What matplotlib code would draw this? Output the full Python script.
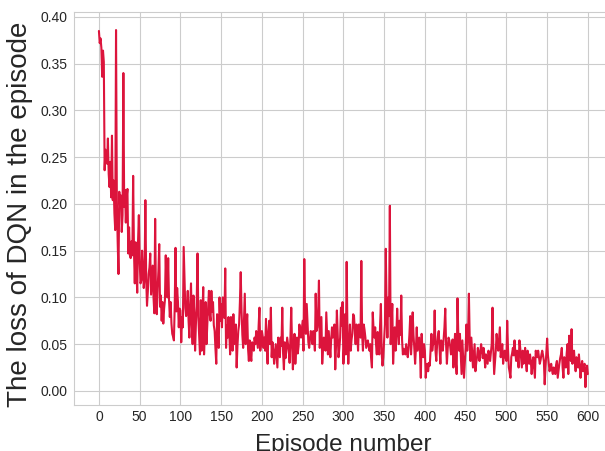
import matplotlib
matplotlib.use("Agg")
import matplotlib.pyplot as plt
import seaborn as sns

# Per-episode DQN loss, episodes 0..600
loss = [
    0.385, 0.372, 0.377, 0.367, 0.336, 0.364, 0.352, 0.236, 0.258, 0.250,
    0.243, 0.270, 0.232, 0.218, 0.245, 0.207, 0.273, 0.204, 0.225, 0.190,
    0.172, 0.386, 0.204, 0.160, 0.125, 0.213, 0.196, 0.209, 0.170, 0.188,
    0.340, 0.197, 0.215, 0.180, 0.207, 0.216, 0.147, 0.175, 0.145, 0.142,
    0.160, 0.145, 0.230, 0.150, 0.115, 0.159, 0.130, 0.105, 0.160, 0.188,
    0.140, 0.115, 0.118, 0.150, 0.132, 0.110, 0.122, 0.204, 0.120, 0.091,
    0.106, 0.125, 0.132, 0.147, 0.103, 0.118, 0.134, 0.100, 0.083, 0.184,
    0.100, 0.082, 0.110, 0.128, 0.157, 0.090, 0.102, 0.075, 0.095, 0.072,
    0.088, 0.097, 0.145, 0.110, 0.100, 0.142, 0.098, 0.079, 0.095, 0.072,
    0.061, 0.058, 0.054, 0.090, 0.153, 0.085, 0.110, 0.095, 0.068, 0.088,
    0.086, 0.052, 0.079, 0.068, 0.154, 0.120, 0.089, 0.080, 0.089, 0.107,
    0.075, 0.057, 0.092, 0.115, 0.070, 0.050, 0.102, 0.083, 0.043, 0.071,
    0.095, 0.147, 0.079, 0.060, 0.039, 0.097, 0.043, 0.080, 0.111, 0.039,
    0.062, 0.095, 0.050, 0.071, 0.088, 0.107, 0.082, 0.075, 0.107, 0.085,
    0.095, 0.070, 0.064, 0.045, 0.029, 0.082, 0.060, 0.046, 0.100, 0.075,
    0.093, 0.068, 0.100, 0.096, 0.078, 0.131, 0.046, 0.070, 0.057, 0.079,
    0.062, 0.039, 0.079, 0.055, 0.043, 0.082, 0.050, 0.060, 0.071, 0.025,
    0.048, 0.064, 0.071, 0.095, 0.127, 0.086, 0.060, 0.046, 0.075, 0.104,
    0.050, 0.068, 0.082, 0.045, 0.032, 0.054, 0.040, 0.032, 0.052, 0.048,
    0.043, 0.057, 0.050, 0.064, 0.055, 0.046, 0.070, 0.089, 0.043, 0.052,
    0.064, 0.058, 0.046, 0.057, 0.043, 0.077, 0.045, 0.029, 0.064, 0.075,
    0.050, 0.089, 0.036, 0.052, 0.043, 0.029, 0.040, 0.050, 0.038, 0.025,
    0.057, 0.045, 0.036, 0.057, 0.048, 0.089, 0.040, 0.023, 0.052, 0.035,
    0.043, 0.057, 0.050, 0.043, 0.030, 0.057, 0.089, 0.050, 0.023, 0.040,
    0.061, 0.029, 0.045, 0.057, 0.040, 0.048, 0.071, 0.062, 0.057, 0.066,
    0.075, 0.043, 0.141, 0.080, 0.061, 0.093, 0.071, 0.052, 0.046, 0.055,
    0.064, 0.059, 0.050, 0.064, 0.058, 0.043, 0.104, 0.064, 0.068, 0.085,
    0.118, 0.046, 0.062, 0.079, 0.029, 0.045, 0.057, 0.050, 0.043, 0.084,
    0.060, 0.039, 0.064, 0.050, 0.036, 0.055, 0.068, 0.057, 0.062, 0.071,
    0.023, 0.050, 0.086, 0.060, 0.036, 0.045, 0.057, 0.089, 0.070, 0.095,
    0.029, 0.050, 0.082, 0.039, 0.138, 0.060, 0.029, 0.050, 0.071, 0.043,
    0.055, 0.061, 0.082, 0.080, 0.064, 0.050, 0.071, 0.060, 0.043, 0.071,
    0.060, 0.057, 0.139, 0.060, 0.043, 0.071, 0.065, 0.057, 0.046, 0.050,
    0.054, 0.048, 0.043, 0.050, 0.035, 0.025, 0.084, 0.066, 0.057, 0.068,
    0.050, 0.039, 0.063, 0.050, 0.039, 0.070, 0.093, 0.040, 0.027, 0.036,
    0.055, 0.071, 0.152, 0.090, 0.057, 0.100, 0.080, 0.198, 0.050, 0.070,
    0.093, 0.029, 0.050, 0.068, 0.043, 0.060, 0.088, 0.065, 0.050, 0.075,
    0.060, 0.102, 0.054, 0.039, 0.045, 0.043, 0.039, 0.050, 0.043, 0.036,
    0.046, 0.060, 0.080, 0.039, 0.055, 0.084, 0.060, 0.046, 0.029, 0.045,
    0.068, 0.043, 0.050, 0.057, 0.040, 0.014, 0.061, 0.045, 0.036, 0.050,
    0.043, 0.014, 0.025, 0.029, 0.021, 0.030, 0.027, 0.045, 0.061, 0.043,
    0.050, 0.050, 0.086, 0.043, 0.032, 0.050, 0.059, 0.064, 0.045, 0.029,
    0.054, 0.048, 0.043, 0.055, 0.068, 0.088, 0.050, 0.029, 0.045, 0.057,
    0.054, 0.048, 0.039, 0.046, 0.055, 0.025, 0.045, 0.061, 0.030, 0.018,
    0.099, 0.060, 0.043, 0.061, 0.040, 0.018, 0.054, 0.035, 0.014, 0.030,
    0.046, 0.071, 0.043, 0.060, 0.104, 0.055, 0.032, 0.057, 0.040, 0.025,
    0.038, 0.050, 0.021, 0.030, 0.036, 0.046, 0.040, 0.032, 0.042, 0.050,
    0.043, 0.035, 0.046, 0.038, 0.025, 0.039, 0.034, 0.029, 0.043, 0.038,
    0.032, 0.041, 0.050, 0.089, 0.045, 0.018, 0.030, 0.043, 0.061, 0.050,
    0.043, 0.055, 0.068, 0.036, 0.042, 0.050, 0.029, 0.038, 0.043, 0.036,
    0.032, 0.075, 0.045, 0.025, 0.020, 0.014, 0.036, 0.040, 0.046, 0.038,
    0.054, 0.040, 0.032, 0.043, 0.035, 0.025, 0.054, 0.046, 0.036, 0.025,
    0.043, 0.029, 0.032, 0.046, 0.030, 0.021, 0.043, 0.035, 0.029, 0.039,
    0.032, 0.018, 0.030, 0.036, 0.025, 0.014, 0.043, 0.040, 0.036, 0.043,
    0.036, 0.029, 0.033, 0.039, 0.043, 0.038, 0.032, 0.007, 0.025, 0.040,
    0.056, 0.038, 0.029, 0.021, 0.026, 0.029, 0.022, 0.018, 0.025, 0.020,
    0.018, 0.028, 0.032, 0.014, 0.022, 0.029, 0.035, 0.039, 0.046, 0.025,
    0.014, 0.036, 0.030, 0.025, 0.040, 0.050, 0.018, 0.059, 0.040, 0.032,
    0.066, 0.029, 0.038, 0.043, 0.030, 0.021, 0.036, 0.030, 0.025, 0.039,
    0.028, 0.014, 0.025, 0.032, 0.021, 0.026, 0.029, 0.004, 0.020, 0.027,
    0.018,
]
episodes = list(range(len(loss)))

x_ticks = list(range(0, 601, 50))
y_ticks = [0.00, 0.05, 0.10, 0.15, 0.20, 0.25, 0.30, 0.35, 0.40]

sns.set_style("whitegrid")
plt.rcParams["font.family"] = ["Liberation Sans", "DejaVu Sans"]

fig = plt.figure(figsize=(6.05, 4.51), dpi=100)
ax = fig.add_axes([0.1231, 0.102, 0.889, 0.871])

ax.plot(episodes, loss, color="crimson", linewidth=1.5)

ax.set_xticks(x_ticks)
ax.set_yticks(y_ticks)
ax.set_yticklabels([f"{v:.2f}" for v in y_ticks])
ax.tick_params(axis="both", length=0, labelsize=10, colors="#262626")
ax.tick_params(axis="x", pad=3.5)
ax.tick_params(axis="y", pad=5)
ax.set_xlabel("Episode number", fontsize=17.5, color="#262626")
ax.set_ylabel("The loss of DQN in the episode", fontsize=20, color="#262626")
ax.xaxis.set_label_coords(0.5, -0.075)
ax.yaxis.set_label_coords(-0.078, 0.485)

fig.savefig("out.png", dpi=100)
